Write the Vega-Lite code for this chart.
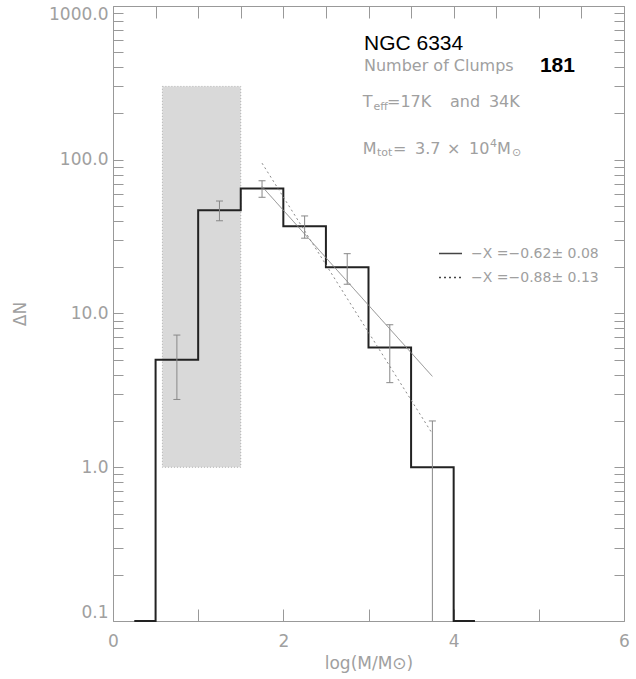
{
  "$schema": "https://vega.github.io/schema/vega-lite/v6.json",
  "width": 511,
  "height": 615,
  "autosize": "none",
  "padding": {"left": 113, "top": 6, "right": 12, "bottom": 58},
  "background": "white",
  "view": {"stroke": null},
  "config": {"font": "DejaVu Sans"},
  "datasets": {
    "hist": [
      {"m": 0.25, "n": 0.1}, {"m": 0.5, "n": 5}, {"m": 1.0, "n": 47}, {"m": 1.5, "n": 65},
      {"m": 2.0, "n": 37}, {"m": 2.5, "n": 20}, {"m": 3.0, "n": 6}, {"m": 3.5, "n": 1},
      {"m": 4.0, "n": 0.1}, {"m": 4.25, "n": 0.1}
    ],
    "err": [
      {"m": 0.75, "lo": 2.76, "hi": 7.24},
      {"m": 1.25, "lo": 40.1, "hi": 53.9},
      {"m": 1.75, "lo": 57.0, "hi": 73.0},
      {"m": 2.25, "lo": 30.9, "hi": 43.1},
      {"m": 2.75, "lo": 15.5, "hi": 24.5},
      {"m": 3.25, "lo": 3.55, "hi": 8.45},
      {"m": 3.75, "lo": 0.1, "hi": 2.0}
    ],
    "fits": [
      {"fit": "−X =−0.62± 0.08", "m": 1.75, "n": 67},
      {"fit": "−X =−0.62± 0.08", "m": 3.75, "n": 3.9},
      {"fit": "−X =−0.88± 0.13", "m": 1.75, "n": 95},
      {"fit": "−X =−0.88± 0.13", "m": 3.75, "n": 1.65}
    ],
    "shade": [{"m1": 0.58, "m2": 1.5, "n1": 1, "n2": 300}],
    "notes": [
      {"k": "head", "t": "NGC 6334", "m": 2.947, "n": 517},
      {"k": "bold", "t": "181", "m": 5.013, "n": 374},
      {"k": "main", "t": "Number of Clumps", "m": 2.947, "n": 380},
      {"k": "main", "t": "T", "m": 2.932, "n": 220},
      {"k": "sub", "t": "eff", "m": 3.059, "n": 210},
      {"k": "main", "t": "=17K", "m": 3.217, "n": 220},
      {"k": "main", "t": "and", "m": 3.957, "n": 220},
      {"k": "main", "t": "34K", "m": 4.414, "n": 220},
      {"k": "main", "t": "M", "m": 2.932, "n": 109},
      {"k": "sub", "t": "tot", "m": 3.100, "n": 105},
      {"k": "main", "t": "=", "m": 3.288, "n": 109},
      {"k": "main", "t": "3.7", "m": 3.546, "n": 109},
      {"k": "main", "t": "×", "m": 3.922, "n": 109},
      {"k": "main", "t": "10", "m": 4.180, "n": 109},
      {"k": "sub", "t": "4", "m": 4.426, "n": 121},
      {"k": "main", "t": "M", "m": 4.509, "n": 109},
      {"k": "sub", "t": "⊙", "m": 4.685, "n": 105}
    ]
  },
  "resolve": {"axis": {"x": "independent", "y": "independent"}},
  "layer": [
    {
      "data": {"name": "shade"},
      "mark": {"type": "rect", "fill": "#d9d9d9", "stroke": "#b0b0b0", "strokeDash": [1, 2], "strokeWidth": 1},
      "encoding": {
        "x": {
          "field": "m1", "type": "quantitative",
          "scale": {"domain": [0, 6], "nice": false, "zero": false},
          "axis": {
            "orient": "bottom", "grid": false, "ticks": true,
            "values": [0, 0.5, 1, 1.5, 2, 2.5, 3, 3.5, 4, 4.5, 5, 5.5, 6],
            "format": "d",
            "labelExpr": "datum.value % 2 == 0 ? datum.label : ''",
            "labelFlush": false, "labelOverlap": false,
            "tickSize": -12, "labelPadding": 24,
            "labelFont": "DejaVu Sans", "labelFontSize": 17, "labelColor": "#a0a0a0",
            "title": "log(M/M⊙)", "titleFont": "DejaVu Sans", "titleFontSize": 17,
            "titleFontWeight": "normal", "titleColor": "#a0a0a0", "titlePadding": 6,
            "domainColor": "#999999", "tickColor": "#999999", "tickWidth": 1,
            "encode": {"ticks": {"update": {"y2": {"signal": "datum.value % 2 == 0 ? -12 : -6"}}}}
          }
        },
        "x2": {"field": "m2"},
        "y": {
          "field": "n1", "type": "quantitative",
          "scale": {"type": "log", "domain": [0.1, 1000], "nice": false},
          "axis": {
            "orient": "left", "grid": false, "ticks": true,
            "values": [0.1, 0.2, 0.3, 0.4, 0.5, 0.6, 0.7, 0.8, 0.9, 1, 2, 3, 4, 5, 6, 7, 8, 9, 10, 20, 30, 40, 50, 60, 70, 80, 90, 100, 200, 300, 400, 500, 600, 700, 800, 900, 1000],
            "format": ".1f",
            "labelExpr": "abs(log(datum.value)/LN10 - round(log(datum.value)/LN10)) < 0.01 ? datum.label : ''",
            "labelOverlap": false, "labelFlush": true, "labelFlushOffset": 0,
            "tickSize": -10, "labelPadding": 15,
            "labelFont": "DejaVu Sans", "labelFontSize": 17, "labelColor": "#a0a0a0",
            "title": "ΔN", "titleFont": "DejaVu Sans", "titleFontSize": 17,
            "titleFontWeight": "normal", "titleColor": "#a0a0a0", "titlePadding": 19,
            "domainColor": "#999999", "tickColor": "#999999", "tickWidth": 1,
            "encode": {"ticks": {"update": {"x2": {"signal": "abs(log(datum.value)/LN10 - round(log(datum.value)/LN10)) < 0.01 ? 10 : 5"}}}}
          }
        },
        "y2": {"field": "n2"}
      }
    },
    {
      "data": {"name": "hist"},
      "mark": {"type": "line", "interpolate": "step-after", "color": "#222222", "strokeWidth": 2},
      "encoding": {
        "x": {
          "field": "m", "type": "quantitative",
          "scale": {"domain": [0, 6], "nice": false, "zero": false},
          "axis": {
            "orient": "top", "grid": false, "labels": false, "title": null, "ticks": true,
            "values": [0, 0.5, 1, 1.5, 2, 2.5, 3, 3.5, 4, 4.5, 5, 5.5, 6],
            "tickSize": -12, "domainColor": "#999999", "tickColor": "#999999", "tickWidth": 1,
            "encode": {"ticks": {"update": {"y2": {"signal": "datum.value % 2 == 0 ? 12 : 6"}}}}
          }
        },
        "y": {
          "field": "n", "type": "quantitative",
          "scale": {"type": "log", "domain": [0.1, 1000], "nice": false},
          "axis": {
            "orient": "right", "grid": false, "labels": false, "title": null, "ticks": true,
            "values": [0.1, 0.2, 0.3, 0.4, 0.5, 0.6, 0.7, 0.8, 0.9, 1, 2, 3, 4, 5, 6, 7, 8, 9, 10, 20, 30, 40, 50, 60, 70, 80, 90, 100, 200, 300, 400, 500, 600, 700, 800, 900, 1000],
            "tickSize": -10, "domainColor": "#999999", "tickColor": "#999999", "tickWidth": 1,
            "encode": {"ticks": {"update": {"x2": {"signal": "abs(log(datum.value)/LN10 - round(log(datum.value)/LN10)) < 0.01 ? -10 : -5"}}}}
          }
        }
      }
    },
    {
      "data": {"name": "err"},
      "mark": {"type": "rule", "color": "#888888", "strokeWidth": 1},
      "encoding": {
        "x": {"field": "m", "type": "quantitative", "scale": {"domain": [0, 6], "nice": false, "zero": false}, "axis": null},
        "y": {"field": "lo", "type": "quantitative", "scale": {"type": "log", "domain": [0.1, 1000], "nice": false}, "axis": null},
        "y2": {"field": "hi"}
      }
    },
    {
      "data": {"name": "err"},
      "mark": {"type": "tick", "orient": "horizontal", "size": 7, "thickness": 1, "color": "#888888", "opacity": 1},
      "encoding": {
        "x": {"field": "m", "type": "quantitative", "scale": {"domain": [0, 6], "nice": false, "zero": false}, "axis": null},
        "y": {"field": "hi", "type": "quantitative", "scale": {"type": "log", "domain": [0.1, 1000], "nice": false}, "axis": null}
      }
    },
    {
      "data": {"name": "err"},
      "transform": [{"filter": "datum.lo > 0.1"}],
      "mark": {"type": "tick", "orient": "horizontal", "size": 7, "thickness": 1, "color": "#888888", "opacity": 1},
      "encoding": {
        "x": {"field": "m", "type": "quantitative", "scale": {"domain": [0, 6], "nice": false, "zero": false}, "axis": null},
        "y": {"field": "lo", "type": "quantitative", "scale": {"type": "log", "domain": [0.1, 1000], "nice": false}, "axis": null}
      }
    },
    {
      "data": {"name": "fits"},
      "mark": {"type": "line", "color": "#888888", "strokeWidth": 1},
      "encoding": {
        "x": {"field": "m", "type": "quantitative", "scale": {"domain": [0, 6], "nice": false, "zero": false}, "axis": null},
        "y": {"field": "n", "type": "quantitative", "scale": {"type": "log", "domain": [0.1, 1000], "nice": false}, "axis": null},
        "strokeDash": {
          "field": "fit", "type": "nominal",
          "scale": {"domain": ["−X =−0.62± 0.08", "−X =−0.88± 0.13"], "range": [[1, 0], [2, 3]]},
          "legend": {
            "title": null, "orient": "none", "legendX": 325, "legendY": 235,
            "symbolType": "stroke", "symbolSize": 529, "symbolStrokeWidth": 1.5, "symbolStrokeColor": "#444444",
            "labelFont": "DejaVu Sans", "labelFontSize": 14, "labelColor": "#a0a0a0",
            "labelOffset": 8, "rowPadding": 4, "padding": 0
          }
        }
      }
    },
    {
      "data": {"name": "notes"},
      "transform": [{"filter": "datum.k == 'main'"}],
      "mark": {"type": "text", "align": "left", "baseline": "alphabetic", "font": "DejaVu Sans", "fontSize": 16, "color": "#a0a0a0"},
      "encoding": {
        "x": {"field": "m", "type": "quantitative", "scale": {"domain": [0, 6], "nice": false, "zero": false}, "axis": null},
        "y": {"field": "n", "type": "quantitative", "scale": {"type": "log", "domain": [0.1, 1000], "nice": false}, "axis": null},
        "text": {"field": "t"}
      }
    },
    {
      "data": {"name": "notes"},
      "transform": [{"filter": "datum.k == 'sub'"}],
      "mark": {"type": "text", "align": "left", "baseline": "alphabetic", "font": "DejaVu Sans", "fontSize": 11, "color": "#a0a0a0"},
      "encoding": {
        "x": {"field": "m", "type": "quantitative", "scale": {"domain": [0, 6], "nice": false, "zero": false}, "axis": null},
        "y": {"field": "n", "type": "quantitative", "scale": {"type": "log", "domain": [0.1, 1000], "nice": false}, "axis": null},
        "text": {"field": "t"}
      }
    },
    {
      "data": {"name": "notes"},
      "transform": [{"filter": "datum.k == 'head'"}],
      "mark": {"type": "text", "align": "left", "baseline": "alphabetic", "font": "Liberation Sans", "fontSize": 21, "color": "#000000"},
      "encoding": {
        "x": {"field": "m", "type": "quantitative", "scale": {"domain": [0, 6], "nice": false, "zero": false}, "axis": null},
        "y": {"field": "n", "type": "quantitative", "scale": {"type": "log", "domain": [0.1, 1000], "nice": false}, "axis": null},
        "text": {"field": "t"}
      }
    },
    {
      "data": {"name": "notes"},
      "transform": [{"filter": "datum.k == 'bold'"}],
      "mark": {"type": "text", "align": "left", "baseline": "alphabetic", "font": "Liberation Sans", "fontSize": 21, "fontWeight": "bold", "color": "#000000"},
      "encoding": {
        "x": {"field": "m", "type": "quantitative", "scale": {"domain": [0, 6], "nice": false, "zero": false}, "axis": null},
        "y": {"field": "n", "type": "quantitative", "scale": {"type": "log", "domain": [0.1, 1000], "nice": false}, "axis": null},
        "text": {"field": "t"}
      }
    }
  ]
}
